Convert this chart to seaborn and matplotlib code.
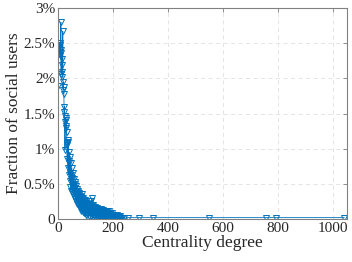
import numpy as np
import pandas as pd
import matplotlib
matplotlib.use("Agg")
import matplotlib.pyplot as plt
from matplotlib.ticker import FuncFormatter
import seaborn as sns

# degree values and fraction of users (in percent)
degree = (list(range(1, 201)) + list(range(202, 231, 2))
          + [234, 241, 254, 293, 344, 547, 754, 790, 1040])
fraction = [
    1.89, 2.45, 2.50, 2.43, 2.38, 2.50, 2.33, 2.47, 2.41, 2.80,
    2.07, 2.36, 2.28, 2.19, 2.09, 2.02, 2.67, 1.84, 1.95, 1.88,
    1.78, 1.52, 1.60, 1.47, 0.98, 1.38, 1.44, 1.30, 1.41, 1.33,
    1.24, 1.08, 0.85, 1.05, 1.12, 0.72, 1.10, 0.80, 0.63, 0.95,
    0.82, 0.54, 0.88, 0.66, 0.45, 0.79, 0.62, 0.40, 0.58, 0.73,
    0.55, 0.38, 0.49, 0.66, 0.36, 0.45, 0.57, 0.32, 0.41, 0.53,
    0.44, 0.28, 0.50, 0.35, 0.25, 0.47, 0.33, 0.39, 0.22, 0.43,
    0.36, 0.21, 0.40, 0.27, 0.34, 0.18, 0.37, 0.30, 0.16, 0.33,
    0.28, 0.14, 0.31, 0.25, 0.12, 0.29, 0.23, 0.35, 0.10, 0.26,
    0.21, 0.30, 0.09, 0.24, 0.19, 0.27, 0.08, 0.22, 0.12, 0.25,
    0.16, 0.23, 0.06, 0.20, 0.09, 0.18, 0.14, 0.21, 0.02, 0.15,
    0.11, 0.19, 0.05, 0.17, 0.13, 0.22, 0.10, 0.26, 0.04, 0.16,
    0.12, 0.18, 0.30, 0.09, 0.14, 0.03, 0.20, 0.11, 0.15, 0.06,
    0.13, 0.05, 0.17, 0.10, 0.07, 0.14, 0.02, 0.12, 0.09, 0.03,
    0.11, 0.06, 0.15, 0.08, 0.02, 0.10, 0.05, 0.13, 0.07, 0.09,
    0.04, 0.12, 0.06, 0.10, 0.03, 0.08, 0.14, 0.05, 0.09, 0.02,
    0.07, 0.11, 0.04, 0.08, 0.13, 0.03, 0.06, 0.10, 0.05, 0.09,
    0.02, 0.07, 0.12, 0.04, 0.08, 0.03, 0.06, 0.10, 0.01, 0.05,
    0.08, 0.03, 0.06, 0.11, 0.02, 0.05, 0.07, 0.01, 0.04, 0.09,
    0.03, 0.06, 0.02, 0.05, 0.08, 0.01, 0.04, 0.03, 0.06, 0.02,
    0.04, 0.01, 0.05, 0.02, 0.03, 0.01, 0.06, 0.02, 0.01, 0.03,
    0.02, 0.04, 0.01, 0.02, 0.01,
    0.02, 0.01, 0.02, 0.02, 0.02, 0.02, 0.02, 0.02, 0.02,
]

xticks = [0, 200, 400, 600, 800, 1000]
yticks = [0, 0.5, 1, 1.5, 2, 2.5, 3]

df = pd.DataFrame({"degree": degree, "fraction": fraction})

sns.set_style("whitegrid")
plt.rcParams["font.family"] = ["Liberation Serif", "DejaVu Serif"]

blue = "#0072BD"
fig = plt.figure(figsize=(3.52, 2.62), dpi=100)
ax = fig.add_axes([0.165, 0.164, 0.821, 0.805])

sns.lineplot(data=df, x="degree", y="fraction", ax=ax, estimator=None, sort=True,
             color=blue, linewidth=0.6, marker="v", markersize=4.8,
             markerfacecolor="none", markeredgecolor=blue, markeredgewidth=0.7)

ax.set_xlim(0, 1050)
ax.set_ylim(0, 3)
ax.set_xticks(xticks)
ax.set_yticks(yticks)
ax.yaxis.set_major_formatter(FuncFormatter(lambda v, p: "0" if v == 0 else f"{v:g}%"))

ax.grid(True, linestyle=(0, (5, 4)), color="#e0e0e0", linewidth=0.6)
for s in ax.spines.values():
    s.set_color("#808080")
    s.set_linewidth(0.8)
ax.tick_params(axis="both", labelsize=11, colors="#262626", direction="in",
               length=3, width=0.6, color="#808080", pad=2, top=True, right=True)

ax.set_xlabel("Centrality degree", fontsize=12.5, color="#262626", labelpad=0)
ax.set_ylabel("Fraction of social users", fontsize=12.5, color="#262626", labelpad=1)

fig.savefig("out.png", dpi=100)
